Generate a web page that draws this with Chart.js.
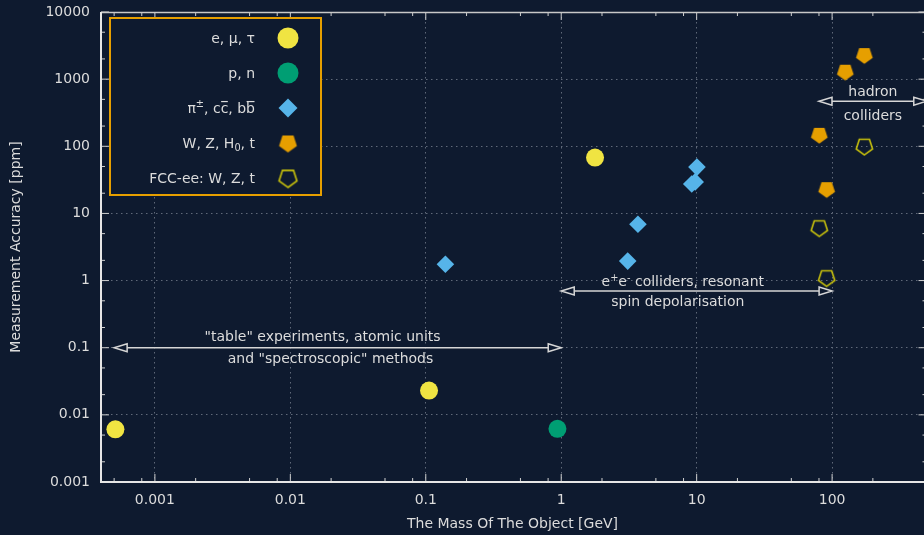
<!DOCTYPE html>
<html>
<head>
<meta charset="utf-8">
<script src="https://cdn.jsdelivr.net/npm/chart.js@4.4.1/dist/chart.umd.min.js"></script>
<style>
  html, body { margin: 0; padding: 0; background: #0e1a2f; }
  canvas { display: block; }
</style>
</head>
<body>
<canvas id="chart" width="924" height="535"></canvas>
<script>
// Particle masses [GeV] and their measurement accuracy [ppm]
const leptonMass   = [0.000511, 0.1057, 1.777];
const leptonAcc    = [0.0061, 0.023, 68];
const nucleonMass  = [0.938];
const nucleonAcc   = [0.0062];
const mesonMass    = [0.1396, 3.097, 3.686, 9.2, 9.75, 10.05];
const mesonAcc     = [1.75, 1.95, 6.9, 27.5, 29.5, 49];
const bosonMass    = [80.4, 91.19, 125.1, 173];
const bosonAcc     = [148, 23, 1290, 2280];
const fccMass      = [80.4, 91.19, 173];
const fccAcc       = [6.1, 1.1, 100];

// Series names (^{} superscript, _{} subscript, ~{} overline)
const seriesLabels = ['e, μ, τ', 'p, n', 'π^{±}, c~{c}, b~{b}', 'W, Z, H_{0}, t', 'FCC-ee: W, Z, t'];

// Axis ticks
const xTickValues = [0.001, 0.01, 0.1, 1, 10, 100];
const xTickLabels = ['0.001', '0.01', '0.1', '1', '10', '100'];
const yTickValues = [0.001, 0.01, 0.1, 1, 10, 100, 1000, 10000];
const yTickLabels = ['0.001', '0.01', '0.1', '1', '10', '100', '1000', '10000'];

// Mass regions covered by the different measurement techniques
const regionFrom  = [0.0005, 1, 80];
const regionTo    = [1, 100, 500];
const regionLevel = [0.1, 0.7, 470];
const regionText  = [
  ['"table" experiments, atomic units', 'and "spectroscopic" methods'],
  ['e^{+}e^{-} colliders, resonant', 'spin depolarisation'],
  ['hadron', 'colliders']
];

// ---------------------------------------------------------------------------
const BG = '#0e1a2f';
const FG = '#dcdcdc';
const GRID = '#5f6879';
const FAMILY = '"DejaVu Sans", "Liberation Sans", sans-serif';
const COLORS = ['#f0e442', '#009e73', '#56b4e9', '#e69f00', '#c9c20c'];

const pts = (xs, ys) => xs.map((x, i) => ({ x, y: ys[i] }));

// Point-down pentagon drawn onto a small canvas, used as a point style
function pentagon(R, fill, stroke, lw) {
  const s = Math.ceil(2 * R + (lw || 0) + 4);
  const c = document.createElement('canvas');
  c.width = c.height = s;
  const g = c.getContext('2d');
  const cx = s / 2, cy = s / 2;
  g.beginPath();
  for (let k = 0; k < 5; k++) {
    const a = Math.PI / 2 + k * 2 * Math.PI / 5;
    const px = cx + R * Math.cos(a), py = cy + R * Math.sin(a);
    if (k) g.lineTo(px, py); else g.moveTo(px, py);
  }
  g.closePath();
  if (fill) { g.fillStyle = fill; g.fill(); }
  if (stroke) { g.strokeStyle = stroke; g.lineWidth = lw; g.stroke(); }
  return c;
}

const pentaFilled = pentagon(8.8, COLORS[3]);
const pentaOpen = pentagon(8.6, null, COLORS[4], 1.6);
const pentaFilledKey = pentagon(9.4, COLORS[3]);
const pentaOpenKey = pentagon(9.4, null, COLORS[4], 1.6);

// --- small rich-text helper ------------------------------------------------
function fontStr(size) { return size + 'px ' + FAMILY; }
function parseRich(s) {
  const out = []; const re = /([\^_~])\{([^}]*)\}/g; let last = 0, m;
  while ((m = re.exec(s))) {
    if (m.index > last) out.push({ t: s.slice(last, m.index), k: '' });
    out.push({ t: m[2], k: m[1] });
    last = re.lastIndex;
  }
  if (last < s.length) out.push({ t: s.slice(last), k: '' });
  return out;
}
function drawRich(ctx, s, x, baseline, size, align) {
  const segs = parseRich(s);
  const sizeOf = g => (g.k === '^' || g.k === '_') ? size * 0.7 : size;
  let w = 0;
  segs.forEach(g => { ctx.font = fontStr(sizeOf(g)); g.w = ctx.measureText(g.t).width; w += g.w; });
  let cx = align === 'right' ? x - w : align === 'center' ? x - w / 2 : x;
  ctx.textAlign = 'left';
  ctx.textBaseline = 'alphabetic';
  segs.forEach(g => {
    ctx.font = fontStr(sizeOf(g));
    let y = baseline;
    if (g.k === '^') y = baseline - size * 0.42;
    if (g.k === '_') y = baseline + size * 0.24;
    ctx.fillText(g.t, cx, y);
    if (g.k === '~') ctx.fillRect(cx + 0.5, baseline - size * 0.86, g.w - 1, 1.2);
    cx += g.w;
  });
}

// --- plugins -----------------------------------------------------------------
const backgroundPlugin = {
  id: 'background',
  beforeDraw(chart) {
    const c = chart.ctx;
    c.save(); c.fillStyle = BG; c.fillRect(0, 0, chart.width, chart.height); c.restore();
  }
};

// Border with inward major / minor ticks; the right-hand axis sits just past the canvas edge
const framePlugin = {
  id: 'frame',
  afterDatasetsDraw(chart) {
    const { ctx, chartArea: a, scales: { x, y } } = chart;
    const rightAxis = a.right + 2.5;
    ctx.save();
    ctx.strokeStyle = '#d0d0d0';
    const tick = (x1, y1, x2, y2) => { ctx.beginPath(); ctx.moveTo(x1, y1); ctx.lineTo(x2, y2); ctx.stroke(); };
    ctx.lineWidth = 1;
    for (let e = -4; e <= 3; e++) {
      [1, 2, 5, 8].forEach(m => {
        const v = m * Math.pow(10, e);
        if (v <= x.min || v >= x.max) return;
        const px = x.getPixelForValue(v), L = m === 1 ? 8 : 4;
        tick(px, a.bottom, px, a.bottom - L);
        tick(px, a.top, px, a.top + L);
      });
    }
    for (let e = -3; e <= 4; e++) {
      [1, 2, 5].forEach(m => {
        const v = m * Math.pow(10, e);
        if (v < y.min || v > y.max) return;
        const py = y.getPixelForValue(v), L = m === 1 ? 8 : 4;
        tick(a.left, py, a.left + L, py);
        tick(rightAxis, py, rightAxis - L, py);
      });
    }
    ctx.lineWidth = 1.5;
    ctx.strokeStyle = '#c8c8c8';
    tick(a.left, a.top + 0.5, a.right, a.top + 0.5);
    ctx.lineWidth = 2;
    ctx.strokeStyle = '#e6e6e6';
    tick(a.left, a.top, a.left, a.bottom + 1);
    tick(a.left - 1, a.bottom, a.right, a.bottom);
    ctx.restore();
  }
};

// Double-headed arrows marking the mass regions, with their captions
const noteLayout = [
  [{ cx: 0.0173, dy: -7 }, { cx: 0.0198, dy: 15.5 }],
  [{ cx: 7.9, dy: -4.5 }, { cx: 7.26, dy: 15 }],
  [{ cx: 200, dy: -5.5 }, { cx: 200, dy: 18.5 }]
];
const regionPlugin = {
  id: 'regions',
  afterDraw(chart) {
    const { ctx, scales: { x, y } } = chart;
    ctx.save();
    regionFrom.forEach((from, i) => {
      const x1 = x.getPixelForValue(from), x2 = x.getPixelForValue(regionTo[i]);
      const py = y.getPixelForValue(regionLevel[i]);
      const len = 13, hw = 4;
      ctx.strokeStyle = '#d6d6d6';
      ctx.lineWidth = 1.5;
      ctx.beginPath(); ctx.moveTo(x1 + len, py); ctx.lineTo(x2 - len, py); ctx.stroke();
      [[x1, 1], [x2, -1]].forEach(([tx, dir]) => {
        ctx.beginPath();
        ctx.moveTo(tx, py);
        ctx.lineTo(tx + dir * len, py - hw);
        ctx.lineTo(tx + dir * len, py + hw);
        ctx.closePath();
        ctx.fillStyle = BG; ctx.fill();
        ctx.stroke();
      });
      ctx.fillStyle = FG;
      regionText[i].forEach((line, j) => {
        const L = noteLayout[i][j];
        drawRich(ctx, line, x.getPixelForValue(L.cx), py + L.dy, 14, 'center');
      });
    });
    ctx.restore();
  }
};

// Framed key in the upper-left corner of the plot
const keyPlugin = {
  id: 'key',
  afterDraw(chart) {
    const { ctx, chartArea: a } = chart;
    const left = a.left + 9, top = a.top + 6, w = 211, h = 177;
    ctx.save();
    ctx.fillStyle = BG;
    ctx.fillRect(left, top, w, h);
    ctx.strokeStyle = '#e69f00';
    ctx.lineWidth = 2;
    ctx.strokeRect(left, top, w, h);
    const mx = left + 178, tx = left + 145;
    chart.data.datasets.forEach((ds, i) => {
      const cy = top + 20 + 35 * i;
      ctx.fillStyle = FG;
      drawRich(ctx, ds.label, tx, cy + 5, 14, 'right');
      const style = ds.keyStyle;
      ctx.fillStyle = ds.backgroundColor;
      if (style === 'circle') {
        ctx.beginPath(); ctx.arc(mx, cy, 10.5, 0, Math.PI * 2); ctx.fill();
      } else if (style === 'rectRot') {
        const r = 9.5;
        ctx.beginPath(); ctx.moveTo(mx - r, cy); ctx.lineTo(mx, cy - r); ctx.lineTo(mx + r, cy); ctx.lineTo(mx, cy + r); ctx.closePath(); ctx.fill();
      } else {
        ctx.drawImage(style, mx - style.width / 2, cy - style.height / 2);
      }
    });
    ctx.restore();
  }
};

// --- chart -------------------------------------------------------------------
const tickFont = { family: FAMILY, size: 14 };

new Chart(document.getElementById('chart'), {
  type: 'scatter',
  data: {
    datasets: [
      { label: seriesLabels[0], data: pts(leptonMass, leptonAcc), pointStyle: 'circle', pointRadius: 9,
        backgroundColor: COLORS[0], pointBorderWidth: 0, keyStyle: 'circle' },
      { label: seriesLabels[1], data: pts(nucleonMass, nucleonAcc), pointStyle: 'circle', pointRadius: 9,
        backgroundColor: COLORS[1], pointBorderWidth: 0, keyStyle: 'circle' },
      { label: seriesLabels[2], data: pts(mesonMass, mesonAcc), pointStyle: 'rectRot', pointRadius: 8.8,
        backgroundColor: COLORS[2], pointBorderWidth: 0, keyStyle: 'rectRot' },
      { label: seriesLabels[3], data: pts(bosonMass, bosonAcc), pointStyle: pentaFilled, pointRadius: 9,
        backgroundColor: COLORS[3], pointBorderWidth: 0, keyStyle: pentaFilledKey },
      { label: seriesLabels[4], data: pts(fccMass, fccAcc), pointStyle: pentaOpen, pointRadius: 9,
        backgroundColor: COLORS[4], pointBorderWidth: 0, keyStyle: pentaOpenKey }
    ]
  },
  options: {
    responsive: false,
    animation: false,
    devicePixelRatio: 1,
    layout: { autoPadding: false, padding: { top: 12, right: 0, left: 0, bottom: 0 } },
    plugins: { legend: { display: false }, tooltip: { enabled: false } },
    scales: {
      x: {
        type: 'logarithmic', min: 0.0004, max: 477,
        afterBuildTicks: s => { s.ticks = xTickValues.map(v => ({ value: v })); },
        afterFit: s => { s.height = 53; s.paddingLeft = 0; s.paddingRight = 0; s.paddingTop = 0; s.paddingBottom = 0; },
        ticks: { color: FG, font: tickFont, padding: 10, autoSkip: false, maxRotation: 0,
                 callback: (v, i) => xTickLabels[i] },
        grid: { color: GRID, lineWidth: 1, drawTicks: false },
        border: { display: false, dash: [1.5, 3.5] },
        title: { display: true, text: 'The Mass Of The Object [GeV]', color: FG,
                 font: { family: FAMILY, size: 14 }, padding: { top: 0, bottom: 2.6 } }
      },
      y: {
        type: 'logarithmic', min: 0.001, max: 10000,
        afterBuildTicks: s => { s.ticks = yTickValues.map(v => ({ value: v })); },
        afterFit: s => { s.width = 101; s.paddingLeft = 0; s.paddingRight = 0; s.paddingTop = 0; s.paddingBottom = 0; },
        ticks: { color: FG, font: tickFont, padding: 11, autoSkip: false,
                 callback: (v, i) => yTickLabels[i] },
        grid: { color: GRID, lineWidth: 1, drawTicks: false },
        border: { display: false, dash: [1.5, 3.5] },
        title: { display: true, text: 'Measurement Accuracy [ppm]', color: FG,
                 font: { family: FAMILY, size: 14 }, padding: { top: 7.6, bottom: 0 } }
      }
    }
  },
  plugins: [backgroundPlugin, framePlugin, regionPlugin, keyPlugin]
});
</script>
</body>
</html>
